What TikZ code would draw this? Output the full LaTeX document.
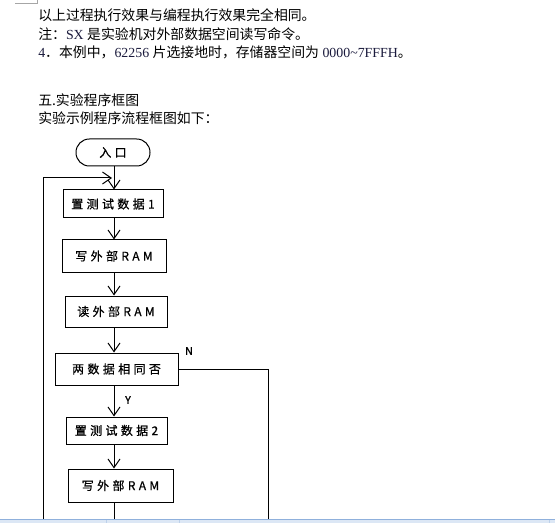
\documentclass[tikz,border=0pt]{standalone}
\usepackage{fontspec}
\usepackage{xcolor}
\usepackage{tikz}
\usetikzlibrary{arrows.meta}
\setmainfont{Liberation Serif}
\newfontfamily\cjk{Noto Sans CJK SC}
\newfontfamily\cjkbox[LetterSpace=28,FakeBold=0.6]{Noto Sans CJK SC}
\newfontfamily\cjkmark[FakeBold=1.2]{Noto Sans CJK SC}
\definecolor{latinnavy}{HTML}{1A1A3C}
\definecolor{barfill}{HTML}{DCE7F5}
\definecolor{baredge}{HTML}{8FB0DC}
\tikzset{txtline/.style={anchor=west, inner sep=0pt, font=\fontsize{10.4pt}{12pt}\selectfont},
  box/.style={draw, line width=0.75pt, inner sep=0pt, font=\cjkbox\fontsize{9pt}{11pt}\selectfont},
  flow/.style={-{Straight Barb[length=6.5pt,width=9pt]}, line width=0.75pt},
  wire/.style={line width=0.75pt},
  yn/.style={inner sep=0pt, font=\cjkmark\fontsize{8pt}{9pt}\selectfont}}

\begin{document}
\begin{tikzpicture}[x=0.75pt, y=-0.75pt]
\useasboundingbox (0,0) rectangle (555,523);
\draw[black!35, line width=0.75pt] (15,4) -- (37,4) -- (37,0);
% text above the chart
\node[txtline] (l1) at (38,15.5) {\cjk 以上过程执行效果与编程执行效果完全相同。};
\node[txtline] (l2) at (38,34) {{\cjk 注：}\textcolor{latinnavy}{SX} {\cjk 是实验机对外部数据空间读写命令。}};
\node[txtline] (l3) at (38,52) {\textcolor{latinnavy}{4}{\cjk ．本例中，}\textcolor{latinnavy}{62256} {\cjk 片选接地时，存储器空间为} \textcolor{latinnavy}{0000\textasciitilde7FFFH}{\cjk 。}};
\node[txtline] (l4) at (38,100) {\cjk 五.实验程序框图};
\node[txtline] (l5) at (38,118.5) {\cjk 实验示例程序流程框图如下：};
% flow chart
\coordinate (col) at (114,0);
\node[box, rounded corners=10pt, minimum width=55.5pt, minimum height=20.25pt] (entry) at (113,152.5) {入口};
\node[box, minimum width=75pt, minimum height=21pt] (setA) at (113,204) {置测试数据1};
\node[box, minimum width=78pt, minimum height=24pt] (writeA) at (114,256) {写外部RAM};
\node[box, minimum width=76.5pt, minimum height=23.25pt] (readA) at (116,311.5) {读外部RAM};
\node[box, minimum width=92.25pt, minimum height=24pt] (same) at (116.5,369) {两数据相同否};
\node[box, minimum width=75.75pt, minimum height=20.25pt] (setB) at (116.5,430.5) {置测试数据2};
\node[box, minimum width=78.75pt, minimum height=24.75pt] (writeB) at (120.5,485.5) {写外部RAM};
\node[yn] (nlab) at (189,351) {N};
\node[yn] (ylab) at (128,400) {Y};
\coordinate (loopB) at (43,519);
\coordinate (loopT) at (43,178);
\coordinate (nB) at (268,519);
\coordinate (bot) at (114,519);
\draw[flow] (entry.south -| col) -- (setA.north -| col);
\draw[flow] (setA.south -| col) -- (writeA.north -| col);
\draw[flow] (writeA.south -| col) -- (readA.north -| col);
\draw[flow] (readA.south -| col) -- (same.north -| col);
\draw[flow] (same.south -| col) -- (setB.north -| col);
\draw[flow] (setB.south -| col) -- (writeB.north -| col);
\draw[wire] (writeB.south -| col) -- (bot);
\draw[flow, shorten >=1.5pt] (loopB) -- (loopT) -- (loopT -| col);
\draw[wire] (same.east) -- (same.east -| nB) -- (nB);
% window bar at the bottom
\fill[barfill] (0,519) rectangle (555,523);
\draw[baredge, line width=0.75pt] (0,519) -- (555,519);
\draw[baredge!60, line width=0.75pt] (106,520) -- (106,523) (179,520) -- (179,523) (549,520) -- (549,523);
\end{tikzpicture}
\end{document}
